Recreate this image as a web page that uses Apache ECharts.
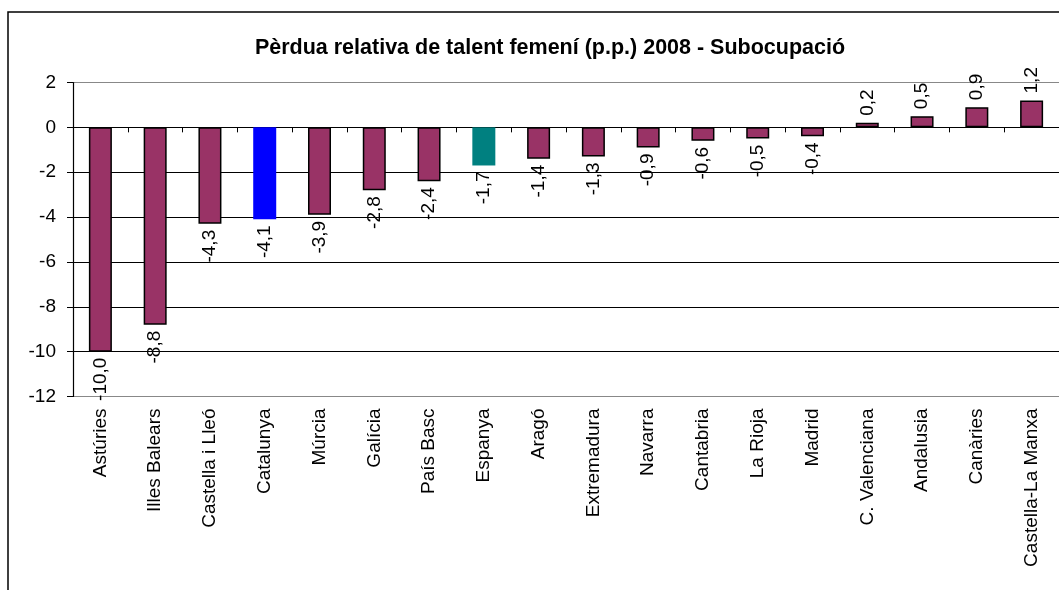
<!DOCTYPE html>
<html>
<head>
<meta charset="utf-8">
<script src="https://cdn.jsdelivr.net/npm/echarts@6/dist/echarts.min.js"></script>
<style>
  html, body { margin: 0; padding: 0; background: #fff; }
  #main { width: 1059px; height: 590px; }
</style>
</head>
<body>
<div id="main"></div>
<script>
// dades del gràfic
var regions = ['Astúries', 'Illes Balears', 'Castella i Lleó', 'Catalunya', 'Múrcia', 'Galícia',
  'País Basc', 'Espanya', 'Aragó', 'Extremadura', 'Navarra', 'Cantabria', 'La Rioja', 'Madrid',
  'C. Valenciana', 'Andalusia', 'Canàries', 'Castella-La Manxa'];
var perdua = [-10.0, -8.8, -4.3, -4.1, -3.9, -2.8, -2.4, -1.7, -1.4, -1.3, -0.9, -0.6, -0.5, -0.4,
  0.2, 0.5, 0.9, 1.2];
var yTicks = [-12, -10, -8, -6, -4, -2, 0, 2];

var font = 'Liberation Sans, Arial, sans-serif';

function barColor(name) {
  if (name === 'Catalunya') return '#0000FF';
  if (name === 'Espanya') return '#008080';
  return '#993366';
}

var barData = perdua.map(function (v, i) {
  var special = regions[i] === 'Catalunya' || regions[i] === 'Espanya';
  return {
    value: v,
    itemStyle: {
      color: barColor(regions[i]),
      borderColor: special ? barColor(regions[i]) : '#000',
      borderWidth: special ? 0 : 1.5
    },
    label: {
      position: v < 0 ? 'bottom' : 'top',
      align: v < 0 ? 'right' : 'left',
      distance: v < 0 ? 6 : 7
    }
  };
});

var myChart = echarts.init(document.getElementById('main'));
myChart.setOption({
  animation: false,
  backgroundColor: '#fff',
  title: {
    text: 'Pèrdua relativa de talent femení (p.p.) 2008 - Subocupació',
    left: 545,
    textAlign: 'center',
    top: 32,
    textStyle: { fontFamily: font, fontSize: 21.5, fontWeight: 'bold', color: '#000' }
  },
  graphic: [{
    type: 'rect',
    shape: { x: 8, y: 12, width: 1100, height: 640 },
    style: { fill: null, stroke: '#000', lineWidth: 1.5 },
    silent: true
  }],
  grid: { left: 73, right: -9, top: 82.5, height: 314 },
  xAxis: {
    type: 'category',
    data: regions,
    axisLine: { onZero: true, lineStyle: { color: '#000', width: 1.2 } },
    axisTick: { show: true, length: 5, lineStyle: { color: '#000' } },
    axisLabel: {
      rotate: 90, interval: 0, margin: 12,
      fontFamily: font, fontSize: 19, color: '#000'
    },
    splitLine: { show: false }
  },
  yAxis: {
    type: 'value',
    min: yTicks[0], max: yTicks[yTicks.length - 1], interval: 2,
    axisLine: { show: true, lineStyle: { color: '#000', width: 1.2 } },
    axisTick: { show: true, length: 6, lineStyle: { color: '#000' } },
    axisLabel: { fontFamily: font, fontSize: 19, color: '#000', margin: 17 },
    splitLine: {
      show: true,
      lineStyle: { color: ['#888', '#000', '#000', '#000', '#000', '#000', '#000', '#888'], width: 1 }
    }
  },
  series: [{
    type: 'bar',
    data: barData,
    barWidth: 23,
    label: {
      show: true,
      rotate: 90,
      verticalAlign: 'middle',
      fontFamily: font, fontSize: 19, color: '#000',
      formatter: function (p) { return p.value.toFixed(1).replace('.', ','); }
    }
  }]
});
</script>
</body>
</html>
